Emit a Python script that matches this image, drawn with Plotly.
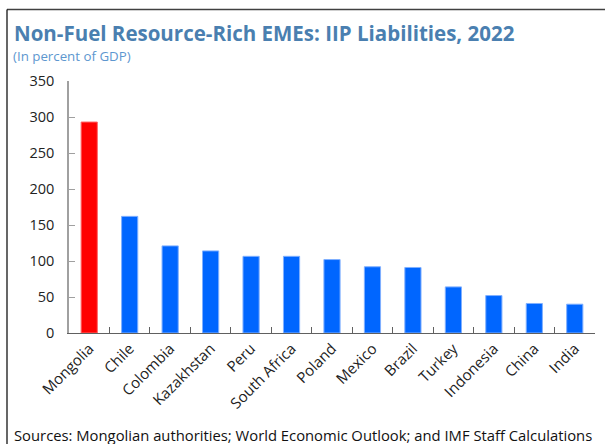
import plotly.graph_objects as go

countries = ["Mongolia", "Chile", "Colombia", "Kazakhstan", "Peru", "South Africa",
             "Poland", "Mexico", "Brazil", "Turkey", "Indonesia", "China", "India"]
liabilities = [293, 162, 121, 114, 106.5, 106.5, 102, 92, 91, 64, 52, 41, 40]
bar_colors = ["#ff0000"] + ["#0066ff"] * 12
edge_colors = ["#ff6666"] + ["#80b0ff"] * 12
y_ticks = [0, 50, 100, 150, 200, 250, 300, 350]

W, H = 605, 444
L, R, T, B = 69, 10, 81, 111
pw, ph = W - L - R, H - T - B

def px(x):
    return (x - L) / pw

def py(y):
    return (H - B - y) / ph

font = "Open Sans"

fig = go.Figure(go.Bar(
    x=countries, y=liabilities,
    marker=dict(color=bar_colors, line=dict(color=edge_colors, width=1)),
))

fig.update_layout(
    width=W, height=H,
    margin=dict(l=L, r=R, t=T, b=B),
    paper_bgcolor="white", plot_bgcolor="white",
    bargap=0.6, showlegend=False,
    font=dict(family=font, size=14, color="#222222"),
    xaxis=dict(
        tickangle=-45, ticks="inside", tickson="boundaries", ticklen=6,
        tickcolor="#606060", showline=True, linecolor="#606060", linewidth=1,
        tickfont=dict(size=15, family=font, color="#222222"),
        showgrid=False,
    ),
    yaxis=dict(
        range=[0, 350], tickvals=y_ticks, ticks="inside", ticklen=6,
        tickcolor="#a0a0a0", showline=True, linecolor="#a0a0a0", linewidth=1.5,
        showgrid=False, zeroline=False, ticklabelstandoff=10,
        tickfont=dict(size=14.5, family=font, color="#222222"),
    ),
    annotations=[
        dict(text="<b>Non-Fuel Resource-Rich EMEs: IIP Liabilities, 2022</b>",
             xref="paper", yref="paper", x=px(12), y=py(33), xanchor="left", yanchor="middle",
             showarrow=False, font=dict(size=20.5, family=font, color="#4a7fb0")),
        dict(text="(In percent of GDP)",
             xref="paper", yref="paper", x=px(11), y=py(56), xanchor="left", yanchor="middle",
             showarrow=False, font=dict(size=13.3, family=font, color="#5d97cf")),
        dict(text="Sources: Mongolian authorities; World Economic Outlook; and IMF Staff Calculations",
             xref="paper", yref="paper", x=px(12), y=py(435), xanchor="left", yanchor="middle",
             showarrow=False, font=dict(size=14.8, family=font, color="#111111")),
    ],
    shapes=[
        dict(type="line", xref="paper", yref="paper", x0=px(7), x1=px(W + 5), y0=py(9.5), y1=py(9.5),
             line=dict(color="#404040", width=1.5)),
        dict(type="line", xref="paper", yref="paper", x0=px(7), x1=px(7), y0=py(9.5), y1=py(H + 5),
             line=dict(color="#000000", width=1.2)),
    ],
)

fig.write_html("out.html", config={"displayModeBar": False},
               post_script="document.body.style.margin='0';")
